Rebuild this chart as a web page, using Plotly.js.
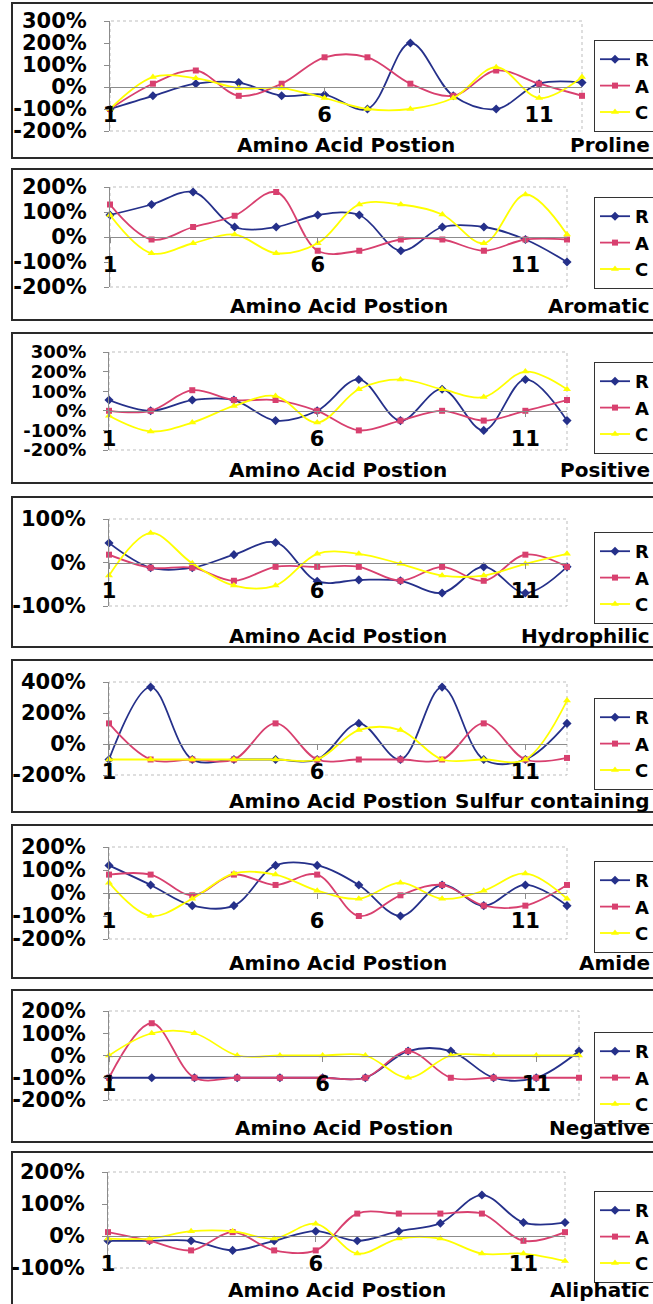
<!DOCTYPE html>
<html>
<head>
<meta charset="utf-8">
<script src="https://cdn.plot.ly/plotly-3.0.1.min.js"></script>
<style>html,body{margin:0;padding:0;background:#fff;}#chart{width:653px;height:1304px;}</style>
</head>
<body>
<div id="chart"></div>
<script>
// ---------- DATA (values in %) ----------
const positions = [1,2,3,4,5,6,7,8,9,10,11,12];
const seriesNames = ['R','A','C'];
const categories = ['Proline','Aromatic','Positive','Hydrophilic','Sulfur containing','Amide','Negative','Aliphatic'];
const xTickVals = [1,6,11];
const xTickText = ['1','6','11'];
const xTitle = 'Amino Acid Postion';

const proline_R = [-100,-40,15,20,-40,-35,-100,200,-40,-100,15,20];
const proline_A = [-100,15,75,-40,15,135,135,15,-40,75,15,-40];
const proline_C = [-100,45,40,-5,-5,-50,-100,-100,-50,90,-50,45];
const proline_ticks = [-200,-100,0,100,200,300];

const aromatic_R = [88,130,180,40,40,88,88,-55,40,40,-10,-100];
const aromatic_A = [130,-10,40,85,180,-55,-55,-10,-10,-55,-10,-10];
const aromatic_C = [88,-65,-25,10,-65,-25,130,130,90,-25,170,10];
const aromatic_ticks = [-200,-100,0,100,200];

const positive_R = [55,0,55,55,-50,0,160,-50,110,-100,160,-50];
const positive_A = [0,0,105,55,55,0,-100,-50,0,-50,0,55];
const positive_C = [-25,-105,-60,25,75,-60,110,160,110,70,200,110];
const positive_ticks = [-200,-100,0,100,200,300];

const hydrophilic_R = [45,-12,-12,18,46,-43,-40,-42,-70,-10,-70,-10];
const hydrophilic_A = [18,-12,-12,-42,-10,-10,-10,-42,-10,-42,18,-10];
const hydrophilic_C = [-30,68,-2,-53,-53,20,20,-3,-30,-30,-3,20];
const hydrophilic_ticks = [-100,0,100];

const sulfur_R = [-100,367,-100,-100,-100,-100,133,-100,367,-100,-100,133];
const sulfur_A = [133,-100,-100,-100,133,-100,-100,-100,-100,133,-100,-90];
const sulfur_C = [-100,-100,-100,-100,-100,-100,90,90,-100,-100,-100,280];
const sulfur_ticks = [-200,0,200,400];

const amide_R = [120,35,-55,-55,120,120,35,-100,35,-55,35,-55];
const amide_A = [80,80,-10,80,35,80,-100,-10,35,-55,-55,35];
const amide_C = [45,-100,-25,85,80,10,-25,45,-25,10,85,-25];
const amide_ticks = [-200,-100,0,100,200];

const negative_R = [-100,-100,-100,-100,-100,-100,-100,20,20,-100,-100,20];
const negative_A = [-100,145,-100,-100,-100,-100,-100,20,-100,-100,-100,-100];
const negative_C = [0,100,100,0,0,0,0,-100,0,0,0,0];
const negative_ticks = [-200,-100,0,100,200];

const aliphatic_R = [-15,-15,-15,-45,-15,15,-15,15,40,128,42,42];
const aliphatic_A = [12,-15,-45,12,-45,-45,70,70,70,70,-15,12];
const aliphatic_C = [-8,-8,15,15,-8,38,-55,-8,-8,-55,-55,-78];
const aliphatic_ticks = [-100,0,100,200];

// ---------- LAYOUT (pixel geometry) ----------
const W = 653, H = 1304;
const FONT = 'DejaVu Sans';
const colors = ['#25308A','#D8406F','#FFFF00'];
const symbols = ['diamond','square','triangle-up'];
const msizes = [7,6,7];

const panels = [
  {data:[proline_R,proline_A,proline_C], ticks:proline_ticks, tf:21, top:21, bot:131, left:110, right:582, boxTop:3, boxBot:158, titleY:145, legTop:40},
  {data:[aromatic_R,aromatic_A,aromatic_C], ticks:aromatic_ticks, tf:21, top:187, bot:287, left:110, right:567, boxTop:169, boxBot:320, titleY:306, legTop:197},
  {data:[positive_R,positive_A,positive_C], ticks:positive_ticks, tf:18, top:352, bot:450, left:109, right:567, boxTop:333, boxBot:483, titleY:470, legTop:362},
  {data:[hydrophilic_R,hydrophilic_A,hydrophilic_C], ticks:hydrophilic_ticks, tf:21, top:519, bot:606, left:109, right:567, boxTop:497, boxBot:647, titleY:636, legTop:532},
  {data:[sulfur_R,sulfur_A,sulfur_C], ticks:sulfur_ticks, tf:21, top:682, bot:775, left:109, right:567, boxTop:660, boxBot:812, titleY:801, legTop:698},
  {data:[amide_R,amide_A,amide_C], ticks:amide_ticks, tf:21, top:847, bot:939, left:109, right:567, boxTop:825, boxBot:978, titleY:963, legTop:861},
  {data:[negative_R,negative_A,negative_C], ticks:negative_ticks, tf:21, top:1011, bot:1100, left:109, right:579, boxTop:990, boxBot:1142, titleY:1128, legTop:1032},
  {data:[aliphatic_R,aliphatic_A,aliphatic_C], ticks:aliphatic_ticks, tf:21, top:1172, bot:1268, left:108, right:565, boxTop:1152, boxBot:1310, titleY:1290, legTop:1191}
];

const fx = p => p / W;
const fy = p => 1 - p / H;

const traces = [];
const layout = {
  width: W, height: H,
  margin: {l:0, r:0, t:0, b:0, pad:0, autoexpand:false},
  paper_bgcolor: '#ffffff', plot_bgcolor: 'rgba(0,0,0,0)',
  font: {family: FONT, color: '#000', size: 20, weight: 'bold'},
  shapes: [], annotations: []
};

panels.forEach((p, i) => {
  const n = i + 1;
  const xa = 'x' + (n === 1 ? '' : n), ya = 'y' + (n === 1 ? '' : n);
  const xk = 'xaxis' + (n === 1 ? '' : n), yk = 'yaxis' + (n === 1 ? '' : n);
  const lg = 'legend' + (n === 1 ? '' : n);
  const ymin = p.ticks[0], ymax = p.ticks[p.ticks.length - 1];
  const d0 = fy(p.bot), d1 = fy(p.top);
  const zeroPos = d0 + (0 - ymin) / (ymax - ymin) * (d1 - d0);

  p.data.forEach((vals, s) => {
    traces.push({
      type: 'scatter', mode: 'lines+markers',
      x: positions, y: vals, name: seriesNames[s],
      xaxis: xa, yaxis: ya, legend: lg, cliponaxis: false,
      line: {color: colors[s], width: 1.8, shape: 'spline', smoothing: 1},
      marker: {color: colors[s], symbol: symbols[s], size: msizes[s], line: {width: 0}},
      hoverinfo: 'skip'
    });
  });

  layout[xk] = {
    domain: [fx(p.left), fx(p.right)], range: [1, 12],
    anchor: 'free', position: zeroPos,
    showline: true, linecolor: '#8c8c8c', linewidth: 1,
    ticks: 'outside', ticklen: 5, tickcolor: '#8c8c8c', tickwidth: 1,
    tickmode: 'array', tickvals: xTickVals, ticktext: xTickText,
    tickfont: {family: FONT, size: 21, color: '#000', weight: 'bold'},
    ticklabelstandoff: 4,
    showgrid: false, zeroline: false, fixedrange: true
  };
  layout[yk] = {
    domain: [d0, d1], range: [ymin, ymax], anchor: xa,
    showline: true, linecolor: '#8c8c8c', linewidth: 1,
    ticks: 'outside', ticklen: 5, tickcolor: '#8c8c8c',
    tickmode: 'array', tickvals: p.ticks, ticktext: p.ticks.map(v => v + '%'),
    tickfont: {family: FONT, size: p.tf, color: '#000', weight: 'bold'},
    ticklabelstandoff: 13,
    showgrid: false, zeroline: false, fixedrange: true
  };
  layout[lg] = {
    x: fx(594), xanchor: 'left', y: fy(p.legTop), yanchor: 'top',
    xref: 'paper', yref: 'paper',
    bgcolor: '#ffffff', bordercolor: '#333333', borderwidth: 1,
    font: {family: FONT, size: 18, color: '#000', weight: 'bold'},
    itemwidth: 30, tracegroupgap: 0
  };
  // panel frame
  layout.shapes.push({type: 'rect', xref: 'paper', yref: 'paper',
    x0: fx(12), x1: fx(W + 20), y0: fy(p.boxBot), y1: fy(p.boxTop),
    line: {color: '#2a2a2a', width: 2}, layer: 'below'});
  // dotted plot-area border
  layout.shapes.push({type: 'rect', xref: xa + ' domain', yref: ya + ' domain',
    x0: 0, x1: 1, y0: 0, y1: 1,
    line: {color: '#bdbdbd', width: 1, dash: 'dot'}, layer: 'below'});
  // axis title
  layout.annotations.push({text: xTitle, xref: xa + ' domain', x: 0.5, xanchor: 'center',
    yref: 'paper', y: fy(p.titleY), yanchor: 'middle', showarrow: false,
    font: {family: FONT, size: 20, color: '#000', weight: 'bold'}});
  // category name
  layout.annotations.push({text: categories[i], xref: 'paper', x: fx(652), xanchor: 'right',
    yref: 'paper', y: fy(p.titleY), yanchor: 'middle', showarrow: false,
    font: {family: FONT, size: 20, color: '#000', weight: 'bold'}});
});

Plotly.newPlot('chart', traces, layout, {displayModeBar: false, staticPlot: true});
</script>
</body>
</html>
